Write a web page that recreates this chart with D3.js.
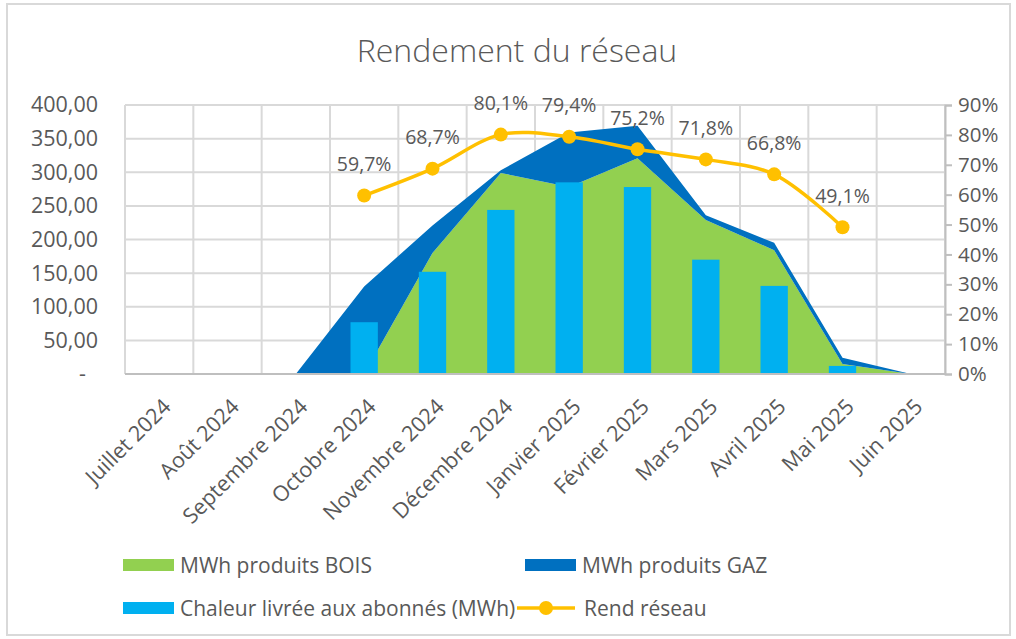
<!DOCTYPE html>
<html><head><meta charset="utf-8">
<script src="https://cdn.jsdelivr.net/npm/d3@7"></script>
<style>
body{margin:0;background:#fff;}
svg text{font-family:"Open Sans",sans-serif;fill:#595959;}
</style></head>
<body><svg id="c" width="1016" height="639"></svg>
<script>
const months = ["Juillet 2024","Août 2024","Septembre 2024","Octobre 2024","Novembre 2024","Décembre 2024","Janvier 2025","Février 2025","Mars 2025","Avril 2025","Mai 2025","Juin 2025"];
const bois = [0,0,0,0,180,299,278,321,229,184,15,0];
const gaz = [0,0,0,130,41,4,81,48,7,11,9,0];
const chaleur = [null,null,null,77,152,244,285,278,170,131,12,null];
const rendement = [null,null,null,59.7,68.7,80.1,79.4,75.2,71.8,66.8,49.1,null];
const leftTicks = [0,50,100,150,200,250,300,350,400];
const rightTicks = [0,10,20,30,40,50,60,70,80,90];

const svg = d3.select("#c");
const L=125,R=945,T=105,B=374;

svg.append("rect").attr("x",7).attr("y",4).attr("width",1003).attr("height",631)
  .attr("fill","#fff").attr("stroke","#d9d9d9").attr("stroke-width",2);

const x = d3.scaleBand().domain(months).range([L,R]).padding(0);
const cx = m => x(m)+x.bandwidth()/2;
const y = d3.scaleLinear().domain([0,400]).range([B,T]);
const y2 = d3.scaleLinear().domain([0,90]).range([B,T]);

// gridlines
const g = svg.append("g");
g.selectAll(".hg").data(leftTicks.slice(1)).join("line")
  .attr("x1",L).attr("x2",R).attr("y1",d=>y(d)).attr("y2",d=>y(d))
  .attr("stroke","#d9d9d9").attr("stroke-width",2);
const vb = months.map(m=>x(m)).concat([R]);
g.selectAll(".vg").data(vb).join("line")
  .attr("x1",d=>d).attr("x2",d=>d).attr("y1",T).attr("y2",B)
  .attr("stroke","#d9d9d9").attr("stroke-width",2);

// stacked areas
const rows = months.map((m,i)=>({m, bois:bois[i], gaz:gaz[i]}));
const stack = d3.stack().keys(["bois","gaz"])(rows);
const area = d3.area().x((d,i)=>cx(months[i])).y0(d=>y(d[0])).y1(d=>y(d[1]));
const areaColors = {bois:"#92d050", gaz:"#0070c0"};
svg.append("g").selectAll("path").data(stack).join("path")
  .attr("d",area).attr("fill",d=>areaColors[d.key]);

// bars
const bw = x.bandwidth()*0.4;
svg.append("g").selectAll("rect").data(months.map((m,i)=>({m,v:chaleur[i]})).filter(d=>d.v!=null))
  .join("rect").attr("x",d=>cx(d.m)-bw/2).attr("width",bw)
  .attr("y",d=>y(d.v)).attr("height",d=>y(0)-y(d.v)).attr("fill","#00b0f0");

// axes lines
svg.append("line").attr("x1",L).attr("x2",R).attr("y1",B).attr("y2",B).attr("stroke","#bfbfbf").attr("stroke-width",2);
const ra = svg.append("g").attr("transform",`translate(${R},0)`)
  .call(d3.axisRight(y2).tickValues(rightTicks).tickSize(7).tickPadding(6).tickFormat(d=>d+"%"));
ra.select(".domain").attr("stroke","#bfbfbf").attr("stroke-width",2);
ra.selectAll(".tick line").attr("stroke","#bfbfbf").attr("stroke-width",2);
ra.selectAll("text").attr("font-size",20.5).attr("font-family","Open Sans").attr("fill","#595959");

const la = svg.append("g").attr("transform",`translate(${L},0)`)
  .call(d3.axisLeft(y).tickValues(leftTicks).tickSize(0).tickPadding(27)
    .tickFormat(d=>d===0?"-":d3.format(".2f")(d).replace(".",",")));
la.select(".domain").remove();
la.selectAll("text").attr("font-size",21.5).attr("font-family","Open Sans").attr("fill","#595959")
  .attr("dx",d=>d===0?-12:0);

// x labels
const xa = svg.append("g").attr("transform",`translate(0,${B})`)
  .call(d3.axisBottom(x).tickSize(0).tickPadding(0));
xa.select(".domain").remove();
xa.selectAll("text").attr("font-size",21.5).attr("font-family","Open Sans").attr("fill","#595959")
  .attr("text-anchor","end").attr("dy",null).attr("y",0)
  .attr("dominant-baseline","central")
  .attr("transform","translate(7,28) rotate(-45)");

// line
const pts = months.map((m,i)=>({m,v:rendement[i]})).filter(d=>d.v!=null);
const line = d3.line().x(d=>cx(d.m)).y(d=>y2(d.v)).curve(d3.curveCatmullRom.alpha(0.5));
svg.append("path").attr("d",line(pts)).attr("fill","none").attr("stroke","#ffc000").attr("stroke-width",3.5);
svg.append("g").selectAll("circle").data(pts).join("circle")
  .attr("cx",d=>cx(d.m)).attr("cy",d=>y2(d.v)).attr("r",7).attr("fill","#ffc000");
svg.append("g").selectAll("text").data(pts).join("text")
  .attr("x",d=>cx(d.m)).attr("y",d=>y2(d.v)-32).attr("text-anchor","middle")
  .attr("dominant-baseline","central").attr("font-size",19.5)
  .text(d=>d3.format(".1f")(d.v).replace(".",",")+"%");

// title
svg.append("text").attr("x",517).attr("y",62).attr("text-anchor","middle")
  .attr("font-size",32).attr("font-weight",300).text("Rendement du réseau");

// legend
const legendItems = [
  {label:"MWh produits BOIS", color:"#92d050", type:"rect", x:123, y:565},
  {label:"MWh produits GAZ", color:"#0070c0", type:"rect", x:525, y:565},
  {label:"Chaleur livrée aux abonnés (MWh)", color:"#00b0f0", type:"rect", x:123, y:608},
  {label:"Rend réseau", color:"#ffc000", type:"line", x:520, y:608}
];
const lg = svg.append("g").selectAll("g").data(legendItems).join("g");
lg.each(function(d){
  const s=d3.select(this);
  if(d.type==="rect"){
    s.append("rect").attr("x",d.x).attr("y",d.y-6).attr("width",51).attr("height",12).attr("fill",d.color);
  } else {
    s.append("line").attr("x1",d.x-3).attr("x2",d.x+55).attr("y1",d.y).attr("y2",d.y).attr("stroke",d.color).attr("stroke-width",3.5);
    s.append("circle").attr("cx",d.x+26).attr("cy",d.y).attr("r",7).attr("fill",d.color);
  }
  s.append("text").attr("x",d.type==="rect"?d.x+57:d.x+64).attr("y",d.y).attr("dominant-baseline","central")
    .attr("font-size",21).text(d.label);
});
</script></body></html>
